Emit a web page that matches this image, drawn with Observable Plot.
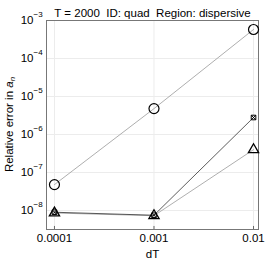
<!DOCTYPE html>
<html><head><meta charset="utf-8">
<script src="https://cdn.jsdelivr.net/npm/d3@7"></script>
<script src="https://cdn.jsdelivr.net/npm/@observablehq/plot@0.6"></script>
<style>body{margin:0;background:#fff;font-family:"Liberation Sans",Arial,sans-serif}</style>
</head><body><div id="chart"></div>
<script>
const dT = [0.0001, 0.001, 0.01];
const errCircle = [4.8e-8, 4.8e-6, 5.8e-4];
const errSquare = [9.0e-9, 7.5e-9, 2.8e-6];
const errTriangle = [8.6e-9, 7.3e-9, 4.0e-7];
const xTickLabels = ["0.0001", "0.001", "0.01"];
const yTicks = [1e-3, 1e-4, 1e-5, 1e-6, 1e-7, 1e-8];
const yExponents = ["−3", "−4", "−5", "−6", "−7", "−8"];
const titleText = "T = 2000  ID: quad  Region: dispersive";

const mk = (vals, s) => dT.map((d, i) => ({dT: d, err: vals[i], s}));
const circ = mk(errCircle, "circle");
const sq = mk(errSquare, "square");
const tri = mk(errTriangle, "triangle");
const xt = dT.map((d, i) => ({v: d, t: xTickLabels[i]}));
const yt = yTicks.map((v, i) => ({v, e: yExponents[i]}));

const yLo = 10 ** -8.5, yHi = 1e-3;
const font = "Liberation Sans, Arial, sans-serif";
const plot = Plot.plot({
  width: 266, height: 264,
  marginLeft: 46, marginRight: 8, marginTop: 20, marginBottom: 35,
  style: {fontFamily: font, background: "#fff"},
  x: {type: "log", domain: [10 ** -4.08, 10 ** -1.95], axis: null},
  y: {type: "log", domain: [yLo, yHi], axis: null},
  marks: [
    Plot.ruleX(dT, {x: d => d, stroke: "#ececec", strokeWidth: 1}),
    Plot.ruleY(yTicks, {y: d => d, stroke: "#ececec", strokeWidth: 1}),
    Plot.frame({stroke: "#777", strokeWidth: 1}),
    Plot.ruleX(dT, {x: d => d, y1: yLo, y2: 10 ** -8.42, stroke: "#666"}),
    Plot.line(circ, {x: "dT", y: "err", stroke: "#999", strokeWidth: 0.8}),
    Plot.line(tri, {x: "dT", y: "err", stroke: "#9a9a9a", strokeWidth: 0.8}),
    Plot.line(sq, {x: "dT", y: "err", stroke: "#333", strokeWidth: 0.8}),
    Plot.dot(circ, {x: "dT", y: "err", symbol: "circle", r: 5, stroke: "#000", strokeWidth: 1.2, fill: "none"}),
    Plot.dot(tri, {x: "dT", y: "err", symbol: "triangle", r: 3.8, stroke: "#000", strokeWidth: 1.3, fill: "none"}),
    Plot.dot(sq, {x: "dT", y: "err", symbol: "square", r: 2.6, stroke: "#000", strokeWidth: 1, fill: "none"}),
    Plot.dot(sq, {x: "dT", y: "err", symbol: "times", r: 2.2, stroke: "#000", strokeWidth: 0.9}),
    Plot.text(xt, {x: "v", text: "t", frameAnchor: "bottom", dy: 12, fontSize: 11.5, fill: "#000"}),
    Plot.text(yt, {y: "v", text: () => "10", frameAnchor: "left", textAnchor: "end", dx: -13, fontSize: 11.5, fill: "#000"}),
    Plot.text(yt, {y: "v", text: "e", frameAnchor: "left", textAnchor: "start", dx: -13, dy: -6, fontSize: 8, fill: "#000"}),
    Plot.text([titleText], {frameAnchor: "top", dy: -12, fontSize: 11.5, fill: "#000"}),
    Plot.text(["dT"], {frameAnchor: "bottom", dy: 28, fontSize: 11.5, fill: "#000"})
  ]
});
const svg = d3.select(plot);
const lab = svg.append("text")
  .attr("transform", "translate(10,124.5) rotate(-90)")
  .attr("text-anchor", "middle").attr("dominant-baseline", "middle")
  .attr("font-size", 11.5).attr("fill", "#000").attr("font-family", font);
lab.append("tspan").text("Relative error in ");
lab.append("tspan").attr("font-style", "italic").text("a");
lab.append("tspan").attr("font-style", "italic").attr("font-size", 8).attr("dy", 3).text("n");
document.getElementById("chart").appendChild(plot);
</script></body></html>
